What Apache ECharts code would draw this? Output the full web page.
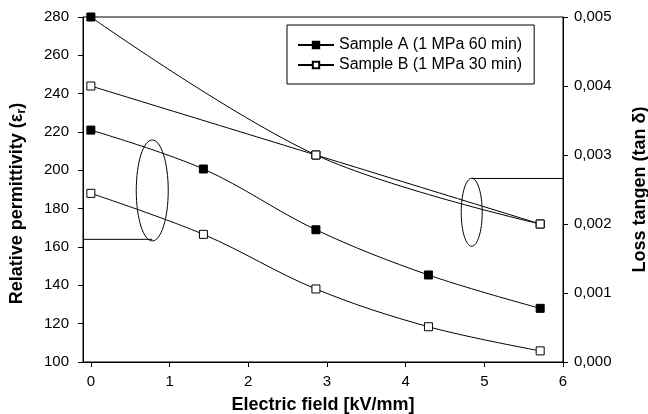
<!DOCTYPE html>
<html>
<head>
<meta charset="utf-8">
<script src="https://cdn.jsdelivr.net/npm/echarts@6/dist/echarts.min.js"></script>
<style>
html, body { margin: 0; padding: 0; background: #fff; }
#main { width: 648px; height: 414px; }
</style>
</head>
<body>
<div id="main"></div>
<script>
// electric field values (kV/mm)
var fieldKV = [0, 1.43, 2.86, 4.29, 5.71];
var permA = [221, 200.7, 169, 145.4, 128];
var permB = [188, 166.6, 138.1, 118.4, 105.8];
// loss tangent points
var lossField = [0, 2.86, 5.71];
var lossA = [0.005, 0.003, 0.002];
var lossB = [0.004, 0.003, 0.002];
var xTicks = [0, 1, 2, 3, 4, 5, 6];
var nameA = 'Sample A (1 MPa 60 min)';
var nameB = 'Sample B (1 MPa 30 min)';

var FONT = '"Liberation Sans", Arial, sans-serif';

function pairs(xs, ys) {
    return xs.map(function (x, i) { return [x, ys[i]]; });
}

function lineSeries(name, xs, data, filled, yIdx) {
    return {
        name: name,
        type: 'line',
        yAxisIndex: yIdx,
        smooth: 0.35,
        symbol: 'rect',
        symbolSize: 8,
        showAllSymbol: true,
        lineStyle: { color: '#000', width: 1 },
        itemStyle: { color: filled ? '#000' : '#fff', borderColor: '#000', borderWidth: 1 },
        emphasis: { disabled: true },
        data: pairs(xs, data)
    };
}

var chart = echarts.init(document.getElementById('main'));
var option = {
    animation: false,
    textStyle: { fontFamily: FONT, color: '#000' },
    grid: {
        left: 83, right: 85, top: 17, bottom: 52,
        outerBoundsMode: 'none',
        show: true, borderColor: '#000', borderWidth: 1
    },
    legend: {
        orient: 'vertical',
        left: 287, top: 25,
        padding: [12, 12, 11, 10],
        itemWidth: 36,
        itemHeight: 8,
        itemGap: 4,
        itemTextGap: 10,
        borderColor: '#000',
        borderWidth: 1,
        textStyle: { fontFamily: FONT, fontSize: 16, color: '#000' },
        data: [nameA, nameB]
    },
    xAxis: {
        type: 'value',
        min: -0.1,
        max: 6,
        name: 'Electric field [kV/mm]',
        nameLocation: 'middle',
        nameGap: 34,
        nameTextStyle: { fontFamily: FONT, fontSize: 18, fontWeight: 'bold', color: '#000' },
        axisLine: { onZero: false, lineStyle: { color: '#000', width: 1 } },
        axisTick: { customValues: xTicks, length: 5, lineStyle: { color: '#000' } },
        axisLabel: { customValues: xTicks, margin: 12, fontSize: 15, color: '#000', fontFamily: FONT },
        splitLine: { show: false }
    },
    yAxis: [
        {
            type: 'value',
            min: 100, max: 280, interval: 20,
            name: 'Relative permittivity (ε{sub|r})',
            nameLocation: 'middle',
            nameRotate: 90,
            nameGap: 55,
            nameTextStyle: {
                fontFamily: FONT, fontSize: 18, fontWeight: 'bold', color: '#000',
                padding: [0, 28, 0, 0],
                rich: { sub: { fontFamily: FONT, fontSize: 13, fontWeight: 'bold', padding: [8, 0, 0, 0] } }
            },
            axisLine: { show: true, onZero: false, lineStyle: { color: '#000', width: 1 } },
            axisTick: { show: true, length: 5, lineStyle: { color: '#000' } },
            axisLabel: { margin: 14, fontSize: 15, color: '#000', fontFamily: FONT },
            splitLine: { show: false }
        },
        {
            type: 'value',
            position: 'right',
            min: 0, max: 0.005, interval: 0.001,
            name: 'Loss tangen (tan δ)',
            nameLocation: 'middle',
            nameRotate: 90,
            nameGap: 68,
            nameTextStyle: { fontFamily: FONT, fontSize: 18, fontWeight: 'bold', color: '#000' },
            axisLine: { show: true, onZero: false, lineStyle: { color: '#000', width: 1 } },
            axisTick: { show: true, length: 5, lineStyle: { color: '#000' } },
            axisLabel: {
                margin: 11, fontSize: 15, color: '#000', fontFamily: FONT,
                formatter: function (v) { return v.toFixed(3).replace('.', ','); }
            },
            splitLine: { show: false }
        }
    ],
    series: [
        lineSeries(nameA, fieldKV, permA, true, 0),
        lineSeries(nameB, fieldKV, permB, false, 0),
        lineSeries(nameA, lossField, lossA, true, 1),
        lineSeries(nameB, lossField, lossB, false, 1)
    ]
};
chart.setOption(option);

// annotation ellipses, anchored in data coordinates
function px(x, y, yIdx) {
    return chart.convertToPixel({ xAxisIndex: 0, yAxisIndex: yIdx }, [x, y]);
}
var lc = px(0.78, 189.5, 0), ll = px(-0.1, 164, 0);
var rc = px(4.84, 0.00217, 1), rl = px(6, 0.00266, 1);
var stroke = { stroke: '#000', lineWidth: 1, fill: null };
chart.setOption({
    graphic: [
        { type: 'ellipse', shape: { cx: lc[0], cy: lc[1], rx: 16, ry: 50.5 }, style: stroke, z: 10 },
        { type: 'line', shape: { x1: ll[0], y1: ll[1], x2: lc[0], y2: ll[1] }, style: stroke, z: 10 },
        { type: 'ellipse', shape: { cx: rc[0], cy: rc[1], rx: 10.5, ry: 34 }, style: stroke, z: 10 },
        { type: 'line', shape: { x1: rc[0], y1: rl[1], x2: rl[0], y2: rl[1] }, style: stroke, z: 10 }
    ]
});

window.addEventListener('resize', function () {
    chart.resize();
});
</script>
</body>
</html>
